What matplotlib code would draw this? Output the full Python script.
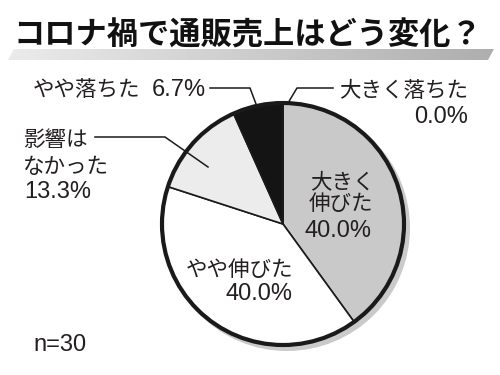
import numpy as np
import matplotlib.pyplot as plt
from matplotlib.patches import Circle, Polygon

plt.rcParams['font.family'] = ['Noto Sans CJK JP', 'DejaVu Sans']

# === データ ===
title = "コロナ禍で通販売上はどう変化？"
labels = ["大きく伸びた", "やや伸びた", "影響はなかった", "やや落ちた", "大きく落ちた"]
values = [40.0, 40.0, 13.3, 6.7, 0.0]
colors = ["#c9c9c9", "#ffffff", "#ececec", "#141414", "#141414"]
n_total = 30

TXT = "#231f20"
JP = ['Noto Sans CJK JP', 'DejaVu Sans']
NUM = ['Liberation Sans', 'DejaVu Sans']
FS_JP = 15.5
FS_NUM = 17

fig = plt.figure(figsize=(5, 3.75), dpi=100)
ax = fig.add_axes([0, 0, 1, 1])

def Y(y):
    # 画像座標(上から) -> データ座標
    return 375 - y

def jp(x, y, s, ha="left"):
    ax.text(x, Y(y), s, ha=ha, va="center", fontsize=FS_JP, family=JP, color=TXT, zorder=6)

def num(x, y, s, ha="left"):
    ax.text(x, Y(y), s, ha=ha, va="center", fontsize=FS_NUM, family=NUM, color=TXT, zorder=6)

# タイトル下のグラデーション帯
grad = np.linspace(0.92, 0.68, 256).reshape(1, -1)
band = Polygon([(8, Y(60)), (14, Y(49)), (494, Y(49)), (488, Y(60))], closed=True,
               facecolor="none", edgecolor="none")
ax.add_patch(band)
im = ax.imshow(grad, cmap="gray", vmin=0, vmax=1, extent=(8, 494, Y(60), Y(49)),
               aspect="auto", zorder=1)
im.set_clip_path(band)
ax.text(248, Y(36), title, ha="center", va="center", fontsize=22.5,
        fontweight="bold", family=JP, color="#111111", zorder=3)

# 円グラフ
cx, cy, r = 283, Y(224), 121
ax.add_patch(Circle((cx + 4, cy - 4), r + 2, facecolor="#cacaca", edgecolor="none", zorder=1))
ax.pie(values, colors=colors, startangle=90, counterclock=False, center=(cx, cy),
       radius=r, wedgeprops=dict(edgecolor="#1a1a1a", linewidth=1.2), frame=True)
ax.add_patch(Circle((cx, cy), r, facecolor="none", edgecolor="#1a1a1a", linewidth=3, zorder=5))
ax.set_xlim(0, 500)
ax.set_ylim(0, 375)
ax.set_aspect("equal")
ax.axis("off")

pct = [f"{v:.1f}%" for v in values]

# 大きく伸びた
jp(342, 182, "大きく", ha="center")
jp(341, 204, "伸びた", ha="center")
num(338, 231, pct[0], ha="center")
# やや伸びた
jp(293, 270, "やや伸びた", ha="right")
num(293, 294, pct[1], ha="right")
# 影響はなかった
jp(23, 140, "影響は")
jp(23, 167, "なかった")
num(24, 192, pct[2])
# やや落ちた
jp(33, 90, "やや落ちた")
num(152, 90, pct[3])
# 大きく落ちた
jp(468, 91, "大きく落ちた", ha="right")
num(468, 117, pct[4], ha="right")

num(33, 345, f"n={n_total}")

# 引き出し線
lw = 1.1
ax.plot([210, 250, 256], [Y(88), Y(88), Y(104)], color="#1a1a1a", lw=lw, zorder=6)
ax.plot([333, 297, 288], [Y(88), Y(88), Y(103)], color="#1a1a1a", lw=lw, zorder=6)
ax.plot([95, 165, 208], [Y(137), Y(137), Y(167)], color="#1a1a1a", lw=lw, zorder=6)

fig.savefig("out.png", dpi=100)
